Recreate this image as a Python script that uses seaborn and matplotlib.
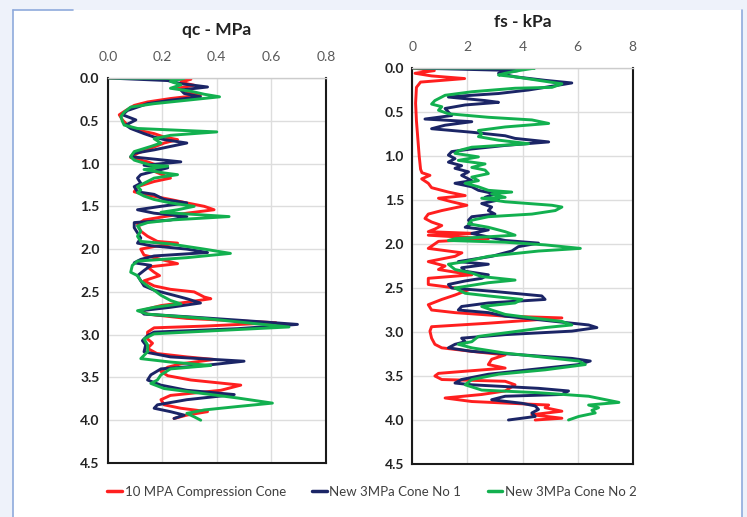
import pandas as pd
import matplotlib.pyplot as plt
import seaborn as sns
from matplotlib.lines import Line2D
from matplotlib.patches import Rectangle

# qc (MPa) profiles, depth in m
qc_red_depth = [0.00, 0.015, 0.05, 0.085, 0.12, 0.16, 0.20, 0.24, 0.28, 0.32, 0.38, 0.43, 0.49, 0.55,
                0.60, 0.65, 0.69, 0.72, 0.76, 0.82, 0.88, 0.93, 0.98, 1.05, 1.09, 1.17, 1.21, 1.27,
                1.33, 1.36, 1.42, 1.46, 1.50, 1.54, 1.58, 1.62, 1.66, 1.71, 1.79, 1.85, 1.91, 1.93,
                1.97, 2.00, 2.07, 2.17, 2.21, 2.27, 2.31, 2.37, 2.43, 2.47, 2.50, 2.56, 2.58, 2.62,
                2.66, 2.72, 2.76, 2.81, 2.86, 2.90, 2.92, 2.97, 3.05, 3.10, 3.16, 3.22, 3.26, 3.29,
                3.34, 3.38, 3.43, 3.48, 3.53, 3.59, 3.65, 3.71, 3.76, 3.82, 3.86, 3.90, 3.94, 3.98]
qc_red = [0.0, 0.305, 0.268, 0.317, 0.256, 0.29, 0.34, 0.23, 0.146, 0.097, 0.066, 0.042, 0.054, 0.072,
          0.097, 0.17, 0.207, 0.256, 0.207, 0.158, 0.109, 0.084, 0.146, 0.207, 0.17, 0.23, 0.17, 0.109,
          0.097, 0.133, 0.23, 0.29, 0.354, 0.39, 0.29, 0.207, 0.133, 0.109, 0.121, 0.146, 0.182, 0.256,
          0.17, 0.121, 0.133, 0.256, 0.146, 0.17, 0.19, 0.133, 0.17, 0.23, 0.317, 0.354, 0.378, 0.29,
          0.195, 0.121, 0.146, 0.29, 0.617, 0.354, 0.17, 0.146, 0.146, 0.164, 0.146, 0.18, 0.29, 0.39,
          0.27, 0.22, 0.195, 0.22, 0.305, 0.488, 0.415, 0.23, 0.195, 0.207, 0.268, 0.366, 0.29, 0.243]

qc_blue_depth = [0.00, 0.03, 0.066, 0.105, 0.14, 0.18, 0.22, 0.26, 0.30, 0.34, 0.38, 0.43, 0.49, 0.55,
                 0.59, 0.65, 0.69, 0.72, 0.76, 0.80, 0.84, 0.88, 0.92, 0.98, 1.02, 1.05, 1.09, 1.13,
                 1.17, 1.23, 1.27, 1.33, 1.36, 1.42, 1.46, 1.50, 1.54, 1.58, 1.62, 1.66, 1.69, 1.75,
                 1.81, 1.87, 1.93, 1.96, 2.00, 2.04, 2.08, 2.12, 2.16, 2.19, 2.25, 2.31, 2.37, 2.43,
                 2.48, 2.54, 2.58, 2.63, 2.68, 2.72, 2.76, 2.79, 2.83, 2.88, 2.93, 2.97, 3.01, 3.07,
                 3.12, 3.20, 3.26, 3.31, 3.36, 3.40, 3.47, 3.53, 3.59, 3.65, 3.70, 3.76, 3.82, 3.86,
                 3.90, 3.94, 3.98]
qc_blue = [0.0, 0.22, 0.268, 0.366, 0.268, 0.28, 0.34, 0.23, 0.146, 0.109, 0.072, 0.054, 0.103, 0.066,
           0.084, 0.133, 0.17, 0.207, 0.29, 0.23, 0.17, 0.097, 0.084, 0.268, 0.133, 0.22, 0.17, 0.121,
           0.109, 0.121, 0.097, 0.109, 0.17, 0.207, 0.29, 0.195, 0.109, 0.17, 0.29, 0.23, 0.097, 0.097,
           0.109, 0.121, 0.109, 0.158, 0.29, 0.366, 0.17, 0.121, 0.097, 0.158, 0.133, 0.109, 0.121, 0.133,
           0.17, 0.243, 0.29, 0.34, 0.23, 0.121, 0.133, 0.29, 0.476, 0.696, 0.476, 0.17, 0.146, 0.127,
           0.139, 0.133, 0.23, 0.50, 0.354, 0.195, 0.158, 0.146, 0.195, 0.29, 0.464, 0.29, 0.182, 0.17,
           0.23, 0.28, 0.243]

qc_green_depth = [0.00, 0.005, 0.04, 0.08, 0.12, 0.155, 0.19, 0.22, 0.26, 0.30, 0.34, 0.40, 0.45, 0.51,
                  0.55, 0.59, 0.63, 0.67, 0.71, 0.76, 0.80, 0.86, 0.92, 0.96, 1.02, 1.03, 1.07, 1.11,
                  1.13, 1.17, 1.23, 1.27, 1.31, 1.34, 1.38, 1.42, 1.46, 1.50, 1.54, 1.57, 1.62, 1.66,
                  1.69, 1.73, 1.79, 1.85, 1.91, 1.94, 2.00, 2.05, 2.10, 2.14, 2.19, 2.27, 2.31, 2.37,
                  2.43, 2.48, 2.54, 2.60, 2.64, 2.68, 2.72, 2.76, 2.81, 2.87, 2.91, 2.95, 2.99, 3.05,
                  3.12, 3.20, 3.28, 3.32, 3.36, 3.40, 3.47, 3.53, 3.57, 3.63, 3.69, 3.74, 3.80, 3.84,
                  3.88, 3.92, 3.96, 4.00]
qc_green = [0.0, 0.28, 0.23, 0.268, 0.23, 0.305, 0.354, 0.41, 0.29, 0.17, 0.084, 0.06, 0.048, 0.054,
            0.06, 0.109, 0.40, 0.23, 0.17, 0.195, 0.158, 0.097, 0.084, 0.097, 0.158, 0.22, 0.133, 0.207,
            0.256, 0.17, 0.133, 0.109, 0.121, 0.109, 0.133, 0.17, 0.23, 0.317, 0.256, 0.195, 0.445, 0.23,
            0.146, 0.109, 0.121, 0.109, 0.121, 0.23, 0.354, 0.45, 0.29, 0.109, 0.09, 0.084, 0.109, 0.121,
            0.146, 0.17, 0.195, 0.23, 0.268, 0.17, 0.109, 0.146, 0.354, 0.537, 0.665, 0.415, 0.17, 0.133,
            0.146, 0.146, 0.121, 0.23, 0.378, 0.23, 0.195, 0.182, 0.158, 0.207, 0.354, 0.476, 0.604, 0.476,
            0.354, 0.29, 0.317, 0.341]

# fs (kPa) profiles
fs_red_depth = [0.00, 0.03, 0.06, 0.09, 0.12, 0.16, 0.22, 0.40, 0.60, 0.80, 1.00, 1.15, 1.19, 1.22,
                1.26, 1.31, 1.36, 1.41, 1.45, 1.48, 1.52, 1.56, 1.62, 1.66, 1.71, 1.75, 1.79, 1.83,
                1.86, 1.88, 1.90, 1.94, 1.97, 2.05, 2.10, 2.14, 2.20, 2.25, 2.29, 2.35, 2.39, 2.46,
                2.52, 2.58, 2.63, 2.69, 2.75, 2.78, 2.82, 2.84, 2.90, 2.94, 2.99, 3.07, 3.14, 3.18,
                3.22, 3.26, 3.31, 3.37, 3.41, 3.47, 3.50, 3.54, 3.56, 3.60, 3.67, 3.71, 3.75, 3.79,
                3.83, 3.86, 3.90, 3.94, 3.98, 4.00]
fs_red = [0.0, 0.8, 0.1, 0.7, 1.9, 0.3, 0.15, 0.12, 0.15, 0.2, 0.25, 0.3, 0.35, 0.64,
          0.34, 0.58, 0.7, 1.31, 1.92, 0.95, 1.43, 1.98, 1.07, 0.58, 0.46, 0.7, 1.07, 0.82,
          0.58, 2.28, 0.58, 2.76, 0.95, 0.58, 1.8, 1.55, 0.58, 1.19, 0.95, 2.16, 0.58, 0.58,
          2.04, 1.55, 1.07, 0.58, 0.7, 1.55, 3.37, 5.43, 2.76, 0.7, 0.64, 0.7, 0.82, 1.07,
          2.16, 3.37, 2.88, 2.76, 3.37, 0.95, 0.82, 1.07, 3.37, 3.73, 3.37, 2.52, 1.19, 2.16,
          4.95, 4.82, 5.43, 4.34, 5.43, 4.46]

fs_blue_depth = [0.00, 0.03, 0.06, 0.10, 0.14, 0.17, 0.22, 0.25, 0.29, 0.31, 0.33, 0.37, 0.39, 0.42,
                 0.46, 0.50, 0.54, 0.58, 0.61, 0.65, 0.69, 0.73, 0.77, 0.80, 0.84, 0.88, 0.92, 0.95,
                 0.99, 1.03, 1.07, 1.11, 1.14, 1.18, 1.22, 1.28, 1.31, 1.35, 1.39, 1.43, 1.47, 1.50,
                 1.54, 1.58, 1.62, 1.66, 1.69, 1.73, 1.77, 1.81, 1.84, 1.88, 1.92, 1.96, 1.99, 2.03,
                 2.08, 2.14, 2.20, 2.23, 2.27, 2.31, 2.35, 2.39, 2.42, 2.46, 2.50, 2.54, 2.59, 2.63,
                 2.67, 2.71, 2.75, 2.78, 2.82, 2.86, 2.92, 2.95, 2.99, 3.03, 3.07, 3.11, 3.14, 3.18,
                 3.22, 3.26, 3.30, 3.33, 3.37, 3.43, 3.48, 3.54, 3.58, 3.60, 3.62, 3.64, 3.67, 3.71,
                 3.73, 3.77, 3.81, 3.84, 3.88, 3.92, 3.96, 4.00]
fs_blue = [0.0, 3.85, 3.13, 3.73, 4.82, 5.79, 4.82, 4.22, 3.13, 2.16, 1.31, 2.64, 3.13, 1.92,
           1.19, 1.31, 1.43, 0.46, 2.16, 1.19, 0.7, 2.16, 3.37, 3.73, 4.95, 3.37, 2.16, 1.43,
           1.31, 1.55, 1.31, 1.79, 1.55, 2.04, 1.79, 2.16, 1.55, 2.16, 2.4, 3.0, 2.64, 3.13,
           2.52, 2.88, 2.76, 3.0, 2.16, 2.04, 2.16, 1.92, 2.76, 2.16, 2.76, 3.37, 4.58, 3.85,
           3.61, 2.88, 1.67, 2.76, 1.79, 1.92, 2.76, 2.52, 1.92, 1.31, 1.43, 3.0, 4.7, 4.82,
           2.76, 1.79, 1.67, 2.76, 3.37, 4.58, 6.4, 6.7, 5.79, 3.37, 1.79, 1.92, 1.55, 1.31,
           2.16, 3.98, 5.79, 6.46, 6.04, 4.22, 2.76, 1.79, 1.55, 2.16, 3.37, 4.58, 5.67, 5.43,
           3.37, 2.88, 3.98, 4.46, 4.58, 4.34, 4.46, 3.49]

fs_green_depth = [0.00, 0.001, 0.03, 0.06, 0.08, 0.10, 0.14, 0.18, 0.22, 0.23, 0.27, 0.31, 0.37, 0.41,
                  0.44, 0.48, 0.52, 0.56, 0.59, 0.63, 0.67, 0.71, 0.75, 0.78, 0.82, 0.86, 0.90, 0.94,
                  0.97, 1.01, 1.05, 1.09, 1.13, 1.16, 1.20, 1.24, 1.28, 1.31, 1.35, 1.39, 1.41, 1.43,
                  1.47, 1.48, 1.52, 1.56, 1.58, 1.62, 1.66, 1.69, 1.73, 1.77, 1.81, 1.86, 1.90, 1.94,
                  1.96, 1.98, 2.01, 2.05, 2.08, 2.14, 2.20, 2.23, 2.29, 2.33, 2.37, 2.41, 2.44, 2.50,
                  2.56, 2.59, 2.63, 2.67, 2.71, 2.75, 2.80, 2.84, 2.88, 2.92, 2.95, 3.01, 3.05, 3.11,
                  3.14, 3.18, 3.24, 3.28, 3.33, 3.37, 3.43, 3.48, 3.54, 3.60, 3.66, 3.69, 3.73, 3.80,
                  3.83, 3.86, 3.89, 3.92, 3.96, 4.00]
fs_green = [0.0, 4.45, 3.85, 3.37, 3.13, 3.73, 4.58, 5.43, 5.07, 3.73, 2.16, 1.19, 0.82, 0.7,
            1.07, 0.95, 1.31, 2.76, 4.34, 4.95, 3.37, 2.4, 2.52, 2.4, 3.13, 4.22, 2.16, 1.67,
            1.55, 2.4, 1.67, 2.64, 2.16, 2.64, 2.76, 2.16, 2.4, 1.92, 2.4, 2.76, 3.61, 2.88,
            3.37, 2.52, 3.37, 5.07, 5.43, 5.19, 4.34, 2.76, 2.16, 2.04, 2.76, 3.37, 3.73, 1.55,
            1.31, 3.37, 4.82, 6.1, 4.58, 2.76, 1.92, 1.31, 1.55, 2.16, 2.52, 3.73, 2.76, 1.55,
            1.92, 2.76, 3.98, 3.73, 2.52, 2.88, 3.37, 4.34, 5.43, 5.79, 4.82, 3.37, 2.4, 2.16,
            1.67, 2.16, 3.37, 4.58, 6.04, 6.28, 4.82, 3.13, 2.16, 1.92, 2.52, 4.58, 6.4, 7.5,
            6.4, 6.76, 6.52, 6.64, 6.04, 5.67]

series_names = ["10 MPA Compression Cone", "New 3MPa Cone No 1", "New 3MPa Cone No 2"]
colors = ["#FF1F1F", "#1B2566", "#12B04F"]


def long_frame(depths, values):
    parts = []
    for name, d, v in zip(series_names, depths, values):
        parts.append(pd.DataFrame({"depth": d, "value": v, "cone": name}))
    return pd.concat(parts, ignore_index=True)


qc_df = long_frame([qc_red_depth, qc_blue_depth, qc_green_depth], [qc_red, qc_blue, qc_green])
fs_df = long_frame([fs_red_depth, fs_blue_depth, fs_green_depth], [fs_red, fs_blue, fs_green])

sns.set_style("white")
plt.rcParams["font.family"] = ["Lato", "DejaVu Sans"]

fig = plt.figure(figsize=(7.47, 5.17), dpi=100, facecolor="#EEF2FA")
# white panel with thin blue border
fig.add_artist(Rectangle((13 / 747, 0), 729 / 747, 507 / 517, transform=fig.transFigure,
                         facecolor="white", edgecolor="none", zorder=-10))
fig.add_artist(Line2D([13 / 747, 13 / 747], [0, 507 / 517], transform=fig.transFigure,
                      color="#8FAADC", lw=1.2))
fig.add_artist(Line2D([742 / 747, 742 / 747], [0, 507 / 517], transform=fig.transFigure,
                      color="#8FAADC", lw=1.2))
fig.add_artist(Line2D([13 / 747, 73 / 747], [507 / 517, 507 / 517], transform=fig.transFigure,
                      color="#8FAADC", lw=1.2))

ax1 = fig.add_axes([107.8 / 747, 1 - 463 / 517, 218 / 747, 385 / 517])
ax2 = fig.add_axes([412.3 / 747, 1 - 464 / 517, 220.4 / 747, 396 / 517])

panels = [
    (ax1, qc_df, (0, 0.8), [0, 0.2, 0.4, 0.6, 0.8], "{:.1f}", "qc - MPa", 1.125),
    (ax2, fs_df, (0, 8), [0, 2, 4, 6, 8], "{:.0f}", "fs - kPa", 1.116),
]

for ax, df, xlim, xt, fmt, title, ty in panels:
    sns.lineplot(data=df, x="value", y="depth", hue="cone", palette=colors, sort=False,
                 estimator=None, orient="y", linewidth=2.1, legend=False, ax=ax)
    for ln in ax.lines:
        ln.set_solid_joinstyle("round")
    ax.set_xlim(*xlim)
    ax.set_ylim(4.5, 0)
    ax.set_xticks(xt)
    ax.set_xticklabels([fmt.format(t) for t in xt])
    ax.set_yticks([0, 0.5, 1.0, 1.5, 2.0, 2.5, 3.0, 3.5, 4.0, 4.5])
    ax.set_yticklabels(["{:.1f}".format(t) for t in ax.get_yticks()], fontweight="bold")
    ax.xaxis.tick_top()
    ax.tick_params(axis="x", length=0, pad=11, labelsize=10, labelcolor="#595959")
    ax.tick_params(axis="y", length=0, pad=6, labelsize=10, labelcolor="#222222")
    ax.grid(True, color="#DDDDDD", linewidth=1)
    ax.set_axisbelow(True)
    ax.set_xlabel("")
    ax.set_ylabel("")
    ax.spines["top"].set_color("#CCCCCC")
    ax.spines["top"].set_linewidth(1)
    for side in ["left", "bottom", "right"]:
        ax.spines[side].set_color("#1A1A1A")
        ax.spines[side].set_linewidth(1.5)
    ax.text(0.5, ty, title, transform=ax.transAxes, ha="center", va="center",
            fontsize=12.5, fontweight="bold", color="#222222")

handles = [Line2D([], [], color=c, lw=2.5) for c in colors]
fig.legend(handles, series_names, loc="center", bbox_to_anchor=(372 / 747, 1 - 492 / 517),
           ncol=3, frameon=False, fontsize=9.5, handlelength=1.1, handletextpad=0.2,
           columnspacing=2.0, labelcolor="#404040")

plt.savefig("out.png", dpi=100, facecolor=fig.get_facecolor())
